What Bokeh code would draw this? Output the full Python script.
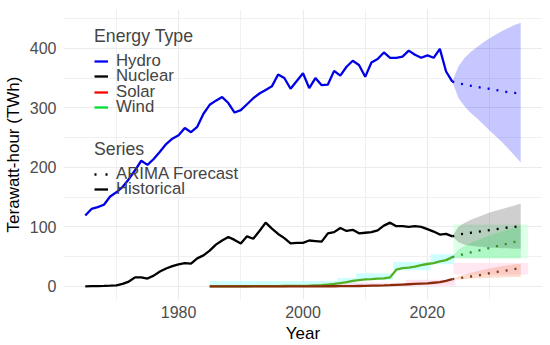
from bokeh.plotting import figure
from bokeh.models import Range1d, FixedTicker, Legend, LegendItem
from bokeh.embed import file_html
from bokeh.resources import INLINE

# ---------------- data ----------------
hist_years = list(range(1965, 2025))
hydro = [119, 130, 133, 137, 151, 158, 167, 180, 195, 211, 204, 214, 226, 239, 248,
         254, 266, 259, 268, 290, 305, 312, 318, 308, 292, 296, 306, 316, 324, 330,
         336, 356, 350, 332, 345, 358, 333, 350, 338, 339, 362, 354, 369, 379, 372,
         352, 376, 382, 393, 384, 384, 386, 396, 389, 384, 388, 384, 399, 361, 344]
nuclear = [0, 0.2, 0.4, 0.6, 1, 1.5, 4, 8, 15, 15, 13, 18, 25, 30, 34,
           37, 39, 38, 47, 52, 60, 70, 77, 83, 78, 72, 84, 80, 93, 107,
           97, 88, 81, 72, 73, 73, 77, 76, 75, 89, 91, 98, 93, 95, 89,
           90, 91, 94, 102, 107, 101, 101, 100, 101, 100, 96, 92, 87, 88, 84]
ws_years = list(range(1985, 2025))
wind = [0, 0, 0, 0, 0, 0.1, 0.1, 0.2, 0.3, 0.3, 0.3, 0.4, 0.5, 0.6, 0.7,
        0.8, 1, 1.5, 2, 3, 4, 5.5, 7, 9, 10.5, 11.5, 12, 13, 13.5, 15,
        28, 30.5, 31.5, 33, 35.5, 37.5, 39, 42, 44, 49]
solar = [0, 0, 0, 0, 0, 0, 0, 0, 0, 0, 0, 0, 0, 0, 0,
         0, 0, 0, 0, 0.1, 0.1, 0.2, 0.3, 0.4, 0.5, 0.6, 1, 1.3, 1.6, 2,
         2.5, 3, 3.5, 4, 4.5, 5, 6, 7, 9, 12]

# faint blocky shading that sits around the wind / solar histories
wind_blk_x = [1985, 2005.5, 2008.5, 2014.5, 2020.5, 2024.3]
wind_blk_lo = [1, 3, 11, 27, 37]
wind_blk_hi = [9, 14, 22, 41, 54]
solar_blk_x = [2005.5, 2016.5, 2024.5]
solar_blk_lo = [0, 1]
solar_blk_hi = [6, 11]

fc_years = list(range(2024, 2036))
hydro_fc = [344, 341, 339, 337, 335, 333, 332, 330, 328, 326, 325, 324]
hydro_hi = [344, 370, 384, 394, 402, 410, 417, 423, 429, 434, 439, 443]
hydro_lo = [344, 316, 302, 291, 282, 272, 262, 252, 242, 231, 220, 208]
nuclear_fc = [84, 87, 88.5, 90, 91.5, 93, 94.5, 96, 97.5, 99, 100, 101]
nuclear_hi = [84, 100, 107, 112, 116, 120, 124, 127, 130, 133, 136, 139]
nuclear_lo = [84, 74, 70, 68, 67, 66, 65, 65, 64, 64, 63, 63]
wind_fc = [49, 52, 54.5, 57, 59.5, 62, 64.5, 67, 69.5, 72, 74.5, 77]
wind_hi = [49, 62, 68, 73, 77, 81, 85, 89, 92, 96, 99, 102]
wind_lo = [49, 47, 47, 47, 47, 47, 47, 47, 47, 47, 47, 47]
solar_fc = [12, 13.5, 15, 16.5, 18, 20, 22, 24, 25.5, 27, 29, 31]
solar_hi = [12, 17, 20, 23, 25.5, 28, 30, 32, 34, 35.5, 37, 38]
solar_lo = [12, 11.5, 12, 13, 13.5, 14, 14.5, 15, 15, 15.5, 15.5, 16]
# blocky halo around the wind / solar forecast fans
fc_blk_x = [2024.2, 2036.2]
wind_fc_blk = [47, 104]
solar_fc_blk = [20, 39]

energy_types = ["Hydro", "Nuclear", "Solar", "Wind"]
series_labels = ["ARIMA Forecast", "Historical"]
x_major = [1980, 2000, 2020]
x_minor = [1970, 1990, 2010, 2030]
y_major = [0, 100, 200, 300, 400]
y_minor = [50, 150, 250, 350, 450]

# ---------------- ranges (ggplot-like 5% expansion) ----------------
all_x = hist_years + fc_years
all_y = hydro + hydro_hi + hydro_lo + nuclear + wind + solar + [0]
xmin, xmax = min(all_x), max(all_x)
ymin, ymax = min(all_y), max(all_y)
xpad = (xmax - xmin) * 0.05
ypad = (ymax - ymin) * 0.05

FONT = "Liberation Sans"
NAN = float("nan")

p = figure(width=542, height=345, output_backend="svg", toolbar_location=None,
           x_range=Range1d(xmin - xpad, xmax + xpad),
           y_range=Range1d(ymin - ypad, ymax + ypad),
           min_border_left=62, min_border_right=0, min_border_top=9, min_border_bottom=46)
p.outline_line_color = None
p.background_fill_color = "white"

for ax in (p.xaxis, p.yaxis):
    ax.axis_line_color = None
    ax.major_tick_line_color = None
    ax.minor_tick_line_color = None
    ax.major_tick_out = 0
    ax.major_tick_in = 0
    ax.minor_tick_out = 0
    ax.minor_tick_in = 0
    ax.major_label_text_color = "#4d4d4d"
    ax.major_label_text_font = FONT
    ax.major_label_text_font_size = "16px"
    ax.axis_label_text_font = FONT
    ax.axis_label_text_font_size = "17px"
    ax.axis_label_text_font_style = "normal"
    ax.axis_label_text_color = "black"

p.xaxis.ticker = FixedTicker(ticks=x_major, minor_ticks=x_minor)
p.yaxis.ticker = FixedTicker(ticks=y_major, minor_ticks=y_minor)
p.xaxis.axis_label = "Year"
p.yaxis.axis_label = "Terawatt-hour (TWh)"
p.xaxis.major_label_standoff = 6
p.yaxis.major_label_standoff = 7
p.xaxis.axis_label_standoff = 3
p.yaxis.axis_label_standoff = 4

for g in (p.xgrid, p.ygrid):
    g.grid_line_color = "#ebebeb"
    g.grid_line_width = 1.2
    g.minor_grid_line_color = "#f0f0f0"
    g.minor_grid_line_width = 1

# ---------------- faint blocky shading ----------------
p.quad(left=wind_blk_x[:-1], right=wind_blk_x[1:], bottom=wind_blk_lo, top=wind_blk_hi,
       fill_color="#b8ffff", fill_alpha=0.7, line_color=None)
p.quad(left=solar_blk_x[:-1], right=solar_blk_x[1:], bottom=solar_blk_lo, top=solar_blk_hi,
       fill_color="#ffd0ea", fill_alpha=0.6, line_color=None)
p.quad(left=[fc_blk_x[0]], right=[fc_blk_x[1]], bottom=[wind_fc_blk[0]], top=[wind_fc_blk[1]],
       fill_color="#c8ffd8", fill_alpha=0.6, line_color=None)
p.quad(left=[fc_blk_x[0]], right=[fc_blk_x[1]], bottom=[solar_fc_blk[0]], top=[solar_fc_blk[1]],
       fill_color="#ffd8ea", fill_alpha=0.6, line_color=None)

# ---------------- forecast bands ----------------
p.varea(x=fc_years, y1=hydro_lo, y2=hydro_hi, fill_color="blue", fill_alpha=0.22)
p.varea(x=fc_years, y1=nuclear_lo, y2=nuclear_hi, fill_color="black", fill_alpha=0.19)
p.varea(x=fc_years, y1=wind_lo, y2=wind_hi, fill_color="#00dd44", fill_alpha=0.2)
p.varea(x=fc_years, y1=solar_lo, y2=solar_hi, fill_color="#ee5511", fill_alpha=0.2)

# ---------------- historical lines ----------------
LW = 2.3
p.line(hist_years, hydro, line_color="#0000e6", line_width=LW)
p.line(hist_years, nuclear, line_color="black", line_width=LW)
p.line(ws_years, wind, line_color="#52b024", line_width=LW)
p.line(ws_years, solar, line_color="#8a2c0a", line_width=LW)

# ---------------- forecast lines ----------------
DASH = "2 7"
p.line(fc_years, hydro_fc, line_color="#0000e6", line_width=LW, line_dash=DASH)
p.line(fc_years, nuclear_fc, line_color="black", line_width=LW, line_dash=DASH)
p.line(fc_years, wind_fc, line_color="#2e8f2e", line_width=LW, line_dash=DASH)
p.line(fc_years, solar_fc, line_color="#7a3a18", line_width=LW, line_dash=DASH)

# ---------------- legends (one per row, to get ggplot's tight row spacing) ----------------
key_colors = ["blue", "black", "red", "#00dd33"]
key_dashes = ["2 9", "solid"]
type_keys = [p.line([NAN], [NAN], line_color=c, line_width=LW) for c in key_colors]
series_keys = [p.line([NAN], [NAN], line_color="black", line_width=LW, line_dash=d)
               for d in key_dashes]

def make_legend(label, renderer, loc, title=None):
    lg = Legend(items=[LegendItem(label=label, renderers=[renderer])], location=loc)
    if title:
        lg.title = title
    lg.background_fill_alpha = 0
    lg.border_line_alpha = 0
    lg.padding = 0
    lg.margin = 0
    lg.spacing = 0
    lg.glyph_width = 14
    lg.glyph_height = 14
    lg.label_standoff = 8
    lg.label_text_font = FONT
    lg.label_text_font_size = "16.8px"
    lg.label_height = 14
    lg.title_text_font = FONT
    lg.title_text_font_size = "17.7px"
    lg.title_text_font_style = "normal"
    lg.title_standoff = 4
    p.add_layout(lg)

type_y = [228, 213, 197, 182]
for i, (lab, r, yy) in enumerate(zip(energy_types, type_keys, type_y)):
    make_legend(lab, r, (31, yy), "Energy Type" if i == 0 else None)
series_y = [115, 100]
for i, (lab, r, yy) in enumerate(zip(series_labels, series_keys, series_y)):
    make_legend(lab, r, (31, yy), "Series" if i == 0 else None)

open("out.html", "w").write(file_html(p, INLINE))
